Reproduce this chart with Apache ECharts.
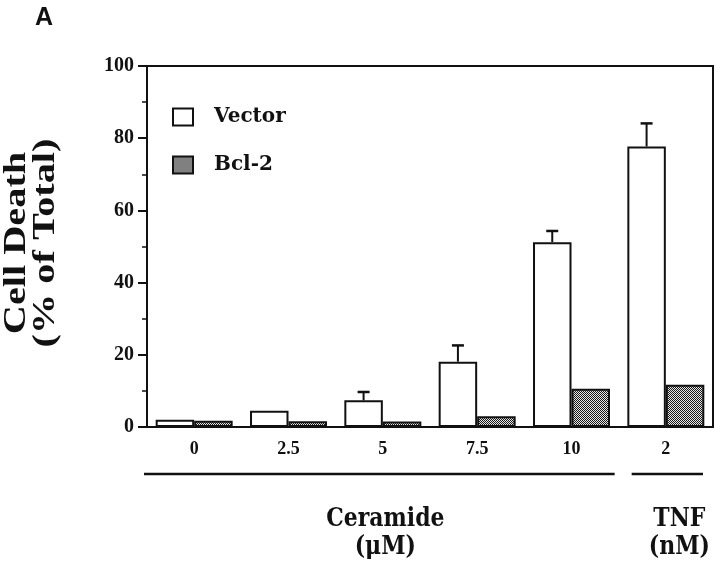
<!DOCTYPE html>
<html><head><meta charset="utf-8">
<script src="https://cdn.jsdelivr.net/npm/echarts@6/dist/echarts.min.js"></script>
<style>html,body{margin:0;padding:0;background:#fff}#c{width:720px;height:561px}</style>
</head><body><div id="c"></div>
<script>
// ---- data ----
const categories = ['0', '2.5', '5', '7.5', '10', '2'];
const vectorValues = [2.0, 4.5, 7.4, 18.1, 51.2, 77.7];
const bcl2Values = [1.7, 1.6, 1.5, 3.0, 10.6, 11.7];
const vectorErrors = [null, null, 2.3, 4.5, 3.1, 6.4];
const seriesNames = ['Vector', 'Bcl-2'];
const yAxisTitle = ['Cell Death', '(% of Total)'];
const groupLabels = ['Ceramide', 'TNF'];
const groupUnits = ['(μM)', '(nM)'];
const groupRanges = [[0, 4], [5, 5]];
const panelLabel = 'A';

// stipple pattern for Bcl-2 bars
const pat = document.createElement('canvas');
pat.width = 2; pat.height = 2;
const g = pat.getContext('2d');
g.fillStyle = '#e6e6e6'; g.fillRect(0, 0, 2, 2);
g.fillStyle = '#1a1a1a'; g.fillRect(0, 0, 1, 1); g.fillRect(1, 1, 1, 1);
const patternFill = { image: pat, repeat: 'repeat' };

const SERIF = '"Liberation Serif", "Times New Roman", serif';
const BOOK = '"DejaVu Serif", "Liberation Serif", serif';
const BAR_FRAC = 0.408;

const errData = vectorErrors.map((e, i) => e == null ? null : [i, vectorValues[i], e]).filter(Boolean);

const chart = echarts.init(document.getElementById('c'), null, { renderer: 'canvas' });
chart.setOption({
  animation: false,
  backgroundColor: '#fff',
  grid: { left: 147, right: 7, top: 66, bottom: 134, show: true, borderColor: '#111', borderWidth: 2, backgroundColor: 'transparent' },
  legend: {
    orient: 'vertical', left: 167, top: 102, itemWidth: 20, itemHeight: 17, itemGap: 28,
    icon: 'rect',
    data: seriesNames,
    textStyle: { fontFamily: BOOK, fontWeight: 'bold', fontSize: 20, color: '#111', padding: [0, 0, 0, 16] }
  },
  xAxis: {
    type: 'category', data: categories,
    axisLine: { lineStyle: { color: '#111', width: 2 } },
    axisTick: { alignWithLabel: true, length: 8, lineStyle: { color: '#111', width: 2 } },
    axisLabel: { fontFamily: SERIF, fontWeight: 'bold', fontSize: 18, color: '#111', margin: 13 },
    splitLine: { show: false }
  },
  yAxis: {
    type: 'value', min: 0, max: 100, interval: 20,
    axisLine: { show: true, lineStyle: { color: '#111', width: 2 } },
    axisTick: { show: true, length: 9, lineStyle: { color: '#111', width: 2 } },
    minorTick: { show: true, splitNumber: 2, length: 5, lineStyle: { color: '#111', width: 1.5 } },
    axisLabel: { fontFamily: SERIF, fontWeight: 'bold', fontSize: 20, color: '#111', margin: 13 },
    splitLine: { show: false }
  },
  series: [
    { name: seriesNames[0], type: 'bar', data: vectorValues, barWidth: (BAR_FRAC * 100) + '%', barGap: '0%',
      itemStyle: { color: '#fff', borderColor: '#111', borderWidth: 2 } },
    { name: seriesNames[1], type: 'bar', data: bcl2Values, barWidth: (BAR_FRAC * 100) + '%', barGap: '0%',
      itemStyle: { color: patternFill, borderColor: '#111', borderWidth: 2 } },
    { type: 'custom', data: errData, z: 5, silent: true,
      renderItem(params, api) {
        const i = api.value(0), v = api.value(1), e = api.value(2);
        const band = api.size([1, 0])[0];
        const p0 = api.coord([i, v]);
        const p1 = api.coord([i, v + e]);
        const x = p0[0] - band * BAR_FRAC / 2;
        return { type: 'group', children: [
          { type: 'line', shape: { x1: x, y1: p0[1], x2: x, y2: p1[1] }, style: { stroke: '#111', lineWidth: 2 } },
          { type: 'line', shape: { x1: x - 6, y1: p1[1], x2: x + 6, y2: p1[1] }, style: { stroke: '#111', lineWidth: 2.5 } }
        ] };
      } }
  ]
});

// annotations positioned from the axis scale
const c0 = chart.convertToPixel({ xAxisIndex: 0 }, 0);
const c1 = chart.convertToPixel({ xAxisIndex: 0 }, 1);
const band = c1 - c0;
const graphics = [
  { type: 'text', left: 35, top: 6, style: { text: panelLabel, font: 'bold 25px "Liberation Sans", Arial, sans-serif', fill: '#111' } },
  { type: 'text', x: 31, y: 243, rotation: Math.PI / 2, scaleX: 1.3, scaleY: 1.0,
    style: { text: yAxisTitle.join('\n'), font: 'bold 31px ' + SERIF, fill: '#111', align: 'center', verticalAlign: 'middle', lineHeight: 29 } }
];
const lineInsets = [[-3, -4], [13, -10]];
const textShift = [6, 12];
groupRanges.forEach((r, k) => {
  const xa = chart.convertToPixel({ xAxisIndex: 0 }, r[0]) - band / 2 + lineInsets[k][0];
  const xb = chart.convertToPixel({ xAxisIndex: 0 }, r[1]) + band / 2 + lineInsets[k][1];
  const mid = (xa + xb) / 2 + textShift[k];
  graphics.push({ type: 'line', shape: { x1: xa, y1: 474, x2: xb, y2: 474 }, style: { stroke: '#111', lineWidth: 2.5 } });
  graphics.push({ type: 'text', x: mid, y: 519, scaleX: 1.0, scaleY: 1.2, style: { text: groupLabels[k], font: 'bold 22px ' + BOOK, fill: '#111', align: 'center', verticalAlign: 'middle' } });
  graphics.push({ type: 'text', x: mid, y: 547, scaleX: 1.0, scaleY: 1.2, style: { text: groupUnits[k], font: 'bold 22px ' + BOOK, fill: '#111', align: 'center', verticalAlign: 'middle' } });
});
chart.setOption({ graphic: graphics });
</script>
</body></html>
